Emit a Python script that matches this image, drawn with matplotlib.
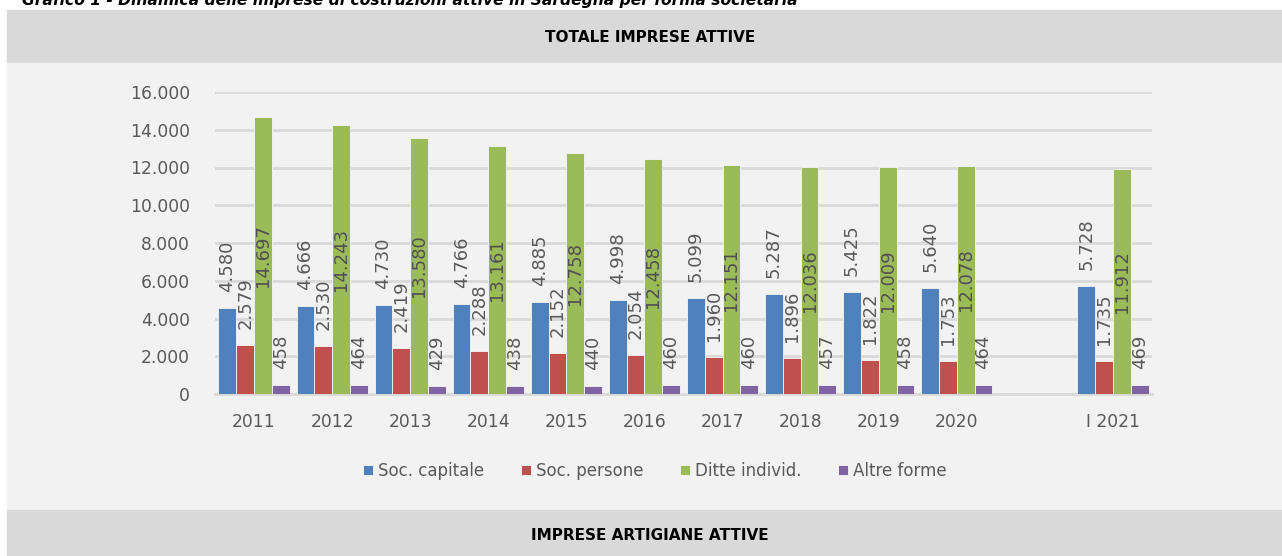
import matplotlib
matplotlib.use("Agg")
import matplotlib.pyplot as plt
from matplotlib.patches import Rectangle
import numpy as np

# dati: imprese di costruzioni attive in Sardegna
anni = ["2011", "2012", "2013", "2014", "2015", "2016", "2017", "2018", "2019", "2020", "", "I 2021"]
pos = [0, 1, 2, 3, 4, 5, 6, 7, 8, 9, 11]
soc_capitale = [4580, 4666, 4730, 4766, 4885, 4998, 5099, 5287, 5425, 5640, 5728]
soc_persone = [2579, 2530, 2419, 2288, 2152, 2054, 1960, 1896, 1822, 1753, 1735]
ditte_individ = [14697, 14243, 13580, 13161, 12758, 12458, 12151, 12036, 12009, 12078, 11912]
altre_forme = [458, 464, 429, 438, 440, 460, 460, 457, 458, 464, 469]

serie = [("Soc. capitale", soc_capitale, "#4f81bd"),
         ("Soc. persone", soc_persone, "#c0504d"),
         ("Ditte individ.", ditte_individ, "#9bbb59"),
         ("Altre forme", altre_forme, "#8064a2")]

plt.rcParams["font.family"] = "DejaVu Sans"
W, H = 1282, 556
fig = plt.figure(figsize=(W / 100, H / 100), dpi=100)
fig.patch.set_facecolor("white")

# pannelli di sfondo
def band(y0, y1, color):
    fig.patches.append(Rectangle((7 / W, 1 - y1 / H), 1 - 7 / W, (y1 - y0) / H,
                                 transform=fig.transFigure, color=color, zorder=-10))

band(10, 63, "#d9d9d9")
band(63, 510, "#f2f2f2")
band(510, 556, "#d9d9d9")

fig.text(22 / W, 1 - 5 / H,
         "Grafico 1 - Dinamica delle imprese di costruzioni attive in Sardegna per forma societaria",
         fontsize=11.2, fontweight="bold", fontstyle="italic", va="baseline", ha="left")
fig.text(650 / W, 1 - 37 / H, "TOTALE IMPRESE ATTIVE", fontsize=11, fontweight="bold",
         ha="center", va="center")
fig.text(650 / W, 1 - 535 / H, "IMPRESE ARTIGIANE ATTIVE", fontsize=11, fontweight="bold",
         ha="center", va="center")

ax = fig.add_axes([215 / W, 1 - 394 / H, (1152 - 215) / W, (394 - 92) / H])
ax.set_facecolor("none")
w = 0.228
x = np.array(pos)
for i, (nome, vals, col) in enumerate(serie):
    xs = x + (i - 1.5) * w
    ax.bar(xs, vals, width=w, color=col, label=nome, zorder=3,
           edgecolor="#f7f7f7", linewidth=0.6)
    for xi, v in zip(xs, vals):
        txt = f"{v:,}".replace(",", ".")
        if nome == "Ditte individ.":
            ax.text(xi, v / 2, txt, rotation=90, ha="center", va="center",
                    fontsize=13, color="#505050", zorder=4)
        else:
            ax.annotate(txt, (xi, v), xytext=(0, 11.5), textcoords="offset points",
                        rotation=90, ha="center", va="bottom", fontsize=13,
                        color="#595959", zorder=4)

ax.set_xlim(-0.5, 11.5)
ax.set_ylim(0, 16000)
ax.set_yticks(np.arange(0, 16001, 2000))
ax.set_yticklabels([f"{t:,}".replace(",", ".") for t in range(0, 16001, 2000)])
ax.set_xticks(range(12))
ax.set_xticklabels(anni)
ax.grid(axis="y", color="#d9d9d9", linewidth=2, zorder=0)
for s in ["top", "right", "left"]:
    ax.spines[s].set_visible(False)
ax.spines["bottom"].set_color("#d9d9d9")
ax.spines["bottom"].set_linewidth(2)
ax.tick_params(axis="both", length=0, labelsize=12.3, colors="#595959")
ax.tick_params(axis="y", pad=18)
ax.tick_params(axis="x", pad=14)

ax.legend(loc="center", bbox_to_anchor=(655 / W, 1 - 471 / H), bbox_transform=fig.transFigure,
          ncol=4, frameon=False, fontsize=12, handlelength=0.6, handleheight=0.6,
          handletextpad=0.3, columnspacing=2.2, labelcolor="#595959")

fig.savefig("out.png", dpi=100, facecolor=fig.get_facecolor())
